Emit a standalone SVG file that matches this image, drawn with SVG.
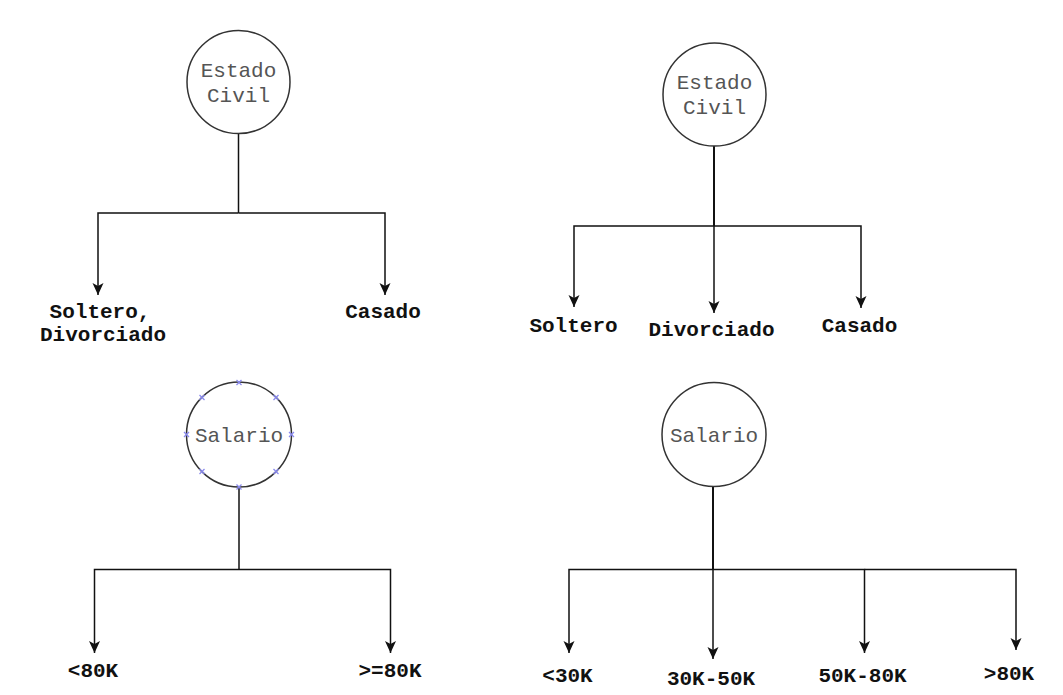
<svg xmlns="http://www.w3.org/2000/svg" width="1063" height="695" viewBox="0 0 1063 695">
<style>
.node{fill:#fff;stroke:#333;stroke-width:1.5}
.nt{font-family:"Liberation Mono","Courier New",monospace;font-size:21px;fill:#555;text-anchor:middle}
.lb{font-family:"Liberation Mono","Courier New",monospace;font-size:21px;font-weight:bold;fill:#111;text-anchor:middle}
.ln{fill:none;stroke:#111;stroke-width:1.5}
.st{fill:none;stroke:#111;stroke-width:2}
.ar{fill:none;stroke:#111;stroke-width:1.5;marker-end:url(#arr)}
.hd{stroke:#8a8aee;stroke-width:1.3}
</style>
<defs>
<marker id="arr" markerUnits="userSpaceOnUse" markerWidth="14" markerHeight="14" viewBox="0 0 14 14" refX="12" refY="7" orient="auto">
<path d="M0,1.5 L12,7 L0,12.5 L3,7 z" fill="#111"/>
</marker>
</defs>
<rect width="1063" height="695" fill="#fff"/>
<g id="connectors">
<line class="ln" x1="238.5" y1="133" x2="238.5" y2="213"/>
<polyline class="ar" points="238.5,213 98,213 98,295"/>
<polyline class="ar" points="238.5,213 385,213 385,295"/>
<line class="st" x1="714" y1="146" x2="714" y2="226"/>
<polyline class="ar" points="714,226 574,226 574,307"/>
<line class="ar" x1="714" y1="226" x2="714" y2="313"/>
<polyline class="ar" points="714,226 861,226 861,308"/>
<line class="ln" x1="239" y1="487" x2="239" y2="569.5"/>
<polyline class="ar" points="239,569.5 94.5,569.5 94.5,653"/>
<polyline class="ar" points="239,569.5 390.5,569.5 390.5,653"/>
<line class="st" x1="713" y1="486.5" x2="713" y2="569.5"/>
<polyline class="ar" points="713,569.5 569,569.5 569,653"/>
<line class="ar" x1="713" y1="569.5" x2="713" y2="659"/>
<polyline class="ar" points="713,569.5 864.5,569.5 864.5,653"/>
<polyline class="ar" points="864.5,569.5 1016,569.5 1016,650"/>
</g>
<g id="n-estado1">
<circle class="node" cx="238.5" cy="82" r="51.5"/>
<text class="nt" x="238.5" y="77">Estado</text>
<text class="nt" x="238.5" y="102">Civil</text>
</g>
<g id="l-soltero-divorciado">
<text class="lb" x="100" y="318">Soltero,</text>
<text class="lb" x="103" y="341">Divorciado</text>
</g>
<g id="l-casado1"><text class="lb" x="383" y="318">Casado</text></g>
<g id="n-estado2">
<circle class="node" cx="714.5" cy="94.5" r="51.5"/>
<text class="nt" x="714.5" y="89">Estado</text>
<text class="nt" x="714.5" y="114">Civil</text>
</g>
<g id="l-soltero"><text class="lb" x="573.5" y="332">Soltero</text></g>
<g id="l-divorciado"><text class="lb" x="711.5" y="336">Divorciado</text></g>
<g id="l-casado2"><text class="lb" x="859.5" y="332">Casado</text></g>
<g id="n-salario1">
<circle class="node" cx="239" cy="434.5" r="52.5"/>
<text class="nt" x="239" y="442">Salario</text>
<g class="hd">
<path d="M236.5,380 l5,5 m0,-5 l-5,5"/>
<path d="M236.5,484.5 l5,5 m0,-5 l-5,5"/>
<path d="M184,432 l5,5 m0,-5 l-5,5"/>
<path d="M289,432 l5,5 m0,-5 l-5,5"/>
<path d="M199.5,395 l5,5 m0,-5 l-5,5"/>
<path d="M273.5,395 l5,5 m0,-5 l-5,5"/>
<path d="M199.5,469 l5,5 m0,-5 l-5,5"/>
<path d="M273.5,469 l5,5 m0,-5 l-5,5"/>
</g>
</g>
<g id="l-lt80k"><text class="lb" x="93" y="677">&lt;80K</text></g>
<g id="l-ge80k"><text class="lb" x="390" y="677">&gt;=80K</text></g>
<g id="n-salario2">
<circle class="node" cx="714" cy="434.5" r="52"/>
<text class="nt" x="714" y="442">Salario</text>
</g>
<g id="l-lt30k"><text class="lb" x="567.5" y="682">&lt;30K</text></g>
<g id="l-30-50k"><text class="lb" x="711" y="685">30K-50K</text></g>
<g id="l-50-80k"><text class="lb" x="862.5" y="682">50K-80K</text></g>
<g id="l-gt80k"><text class="lb" x="1009" y="680">&gt;80K</text></g>
</svg>
